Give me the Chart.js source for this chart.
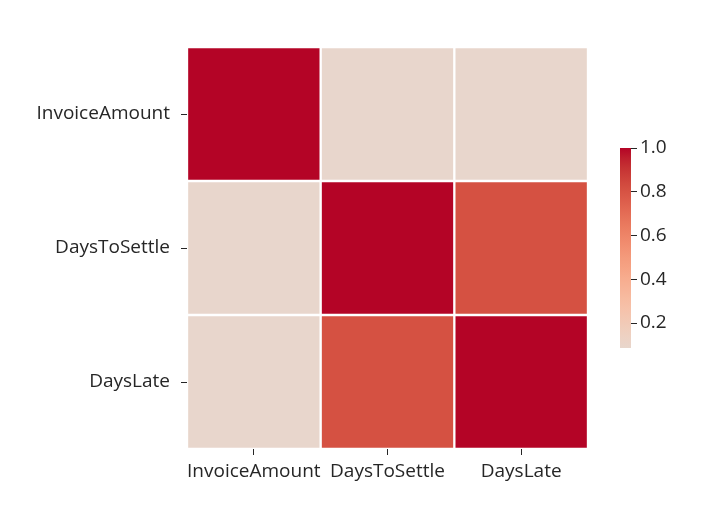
<!DOCTYPE html>
<html>
<head>
<meta charset="utf-8">
<script src="https://cdn.jsdelivr.net/npm/chart.js@4.4.1/dist/chart.umd.min.js"></script>
<style>
   body { margin: 0; background: #fff; }
   #wrap { position: relative; width: 718px; height: 516px; }
   #heat { position: absolute; left: 0; top: 0; }
   #cbar { position: absolute; left: 600px; top: 0; }
</style>
</head>
<body>
<div id="wrap">
   <canvas id="heat" width="600" height="516"></canvas>
   <canvas id="cbar" width="118" height="516"></canvas>
</div>
<script>
'use strict';

var rowLabels = ['InvoiceAmount', 'DaysToSettle', 'DaysLate'];
var colLabels = ['InvoiceAmount', 'DaysToSettle', 'DaysLate'];
var invoiceAmountRow = [1.0, 0.086, 0.09];
var daysToSettleRow = [0.086, 1.0, 0.81];
var daysLateRow = [0.09, 0.81, 1.0];
var colorbarTicks = [0.2, 0.4, 0.6, 0.8, 1.0];

var matrix = [invoiceAmountRow, daysToSettleRow, daysLateRow];

// upper half of matplotlib coolwarm (Moreland table)
var coolwarmTop = [
   [221, 221, 221], [229, 216, 209], [236, 211, 197], [241, 204, 185],
   [245, 196, 173], [247, 187, 160], [247, 177, 148], [247, 166, 135],
   [244, 154, 123], [241, 141, 111], [236, 127, 99], [229, 112, 88],
   [222, 96, 77], [213, 80, 66], [203, 62, 56], [192, 40, 47], [180, 4, 38]
];

var textColor = '#262626';
var labelFont = { family: "'Open Sans', 'Noto Sans', sans-serif", size: 19 };

// value in [0,1] (centred at 0, range 1) -> colour
function coolwarm(v) {
   var t = Math.max(0, Math.min(1, v)) * (coolwarmTop.length - 1);
   var i = Math.min(Math.floor(t), coolwarmTop.length - 2);
   var f = t - i;
   var a = coolwarmTop[i], b = coolwarmTop[i + 1];
   var c = a.map(function(x, k) {
      return Math.round(x + (b[k] - x) * f);
   });
   return 'rgb(' + c.join(',') + ')';
}

var allValues = [].concat.apply([], matrix);
var vmin = Math.min.apply(null, allValues);
var vmax = Math.max.apply(null, allValues);

var datasets = colLabels.map(function(col, j) {
   return {
      label: col,
      data: matrix.map(function() {
         return [j, j + 1];
      }),
      backgroundColor: matrix.map(function(row) {
         return coolwarm(row[j]);
      }),
      borderColor: '#ffffff',
      borderWidth: 1.5,
      borderSkipped: false,
      barPercentage: 1,
      categoryPercentage: 1,
      grouped: false
   };
});

new Chart(document.getElementById('heat'), {
   type: 'bar',
   data: {
      labels: rowLabels,
      datasets: datasets
   },
   options: {
      indexAxis: 'y',
      responsive: false,
      animation: false,
      layout: { padding: { top: 47, right: 12, left: 0, bottom: 0 } },
      plugins: { legend: { display: false }, tooltip: { enabled: false } },
      scales: {
         x: {
            type: 'linear',
            min: 0,
            max: 3,
            border: { display: false },
            grid: { drawOnChartArea: false, drawTicks: true, tickLength: 6, color: textColor },
            ticks: {
               color: textColor,
               font: labelFont,
               padding: 5,
               maxRotation: 0,
               autoSkip: false,
               callback: function(value) {
                  return colLabels[Math.floor(value)];
               }
            },
            afterBuildTicks: function(scale) {
               scale.ticks = colLabels.map(function(c, j) {
                  return { value: j + 0.5 };
               });
            },
            afterFit: function(scale) {
               scale.height = 67;
            }
         },
         y: {
            border: { display: false },
            grid: { drawOnChartArea: false, drawTicks: true, tickLength: 6, offset: false, color: textColor },
            ticks: { color: textColor, font: labelFont, padding: 11 },
            afterFit: function(scale) {
               scale.width = 187;
            }
         }
      }
   }
});

new Chart(document.getElementById('cbar'), {
   type: 'bar',
   data: {
      labels: ['scale'],
      datasets: [{
         data: [[vmin, vmax]],
         barPercentage: 1,
         categoryPercentage: 1,
         borderWidth: 0,
         backgroundColor: function(context) {
            var area = context.chart.chartArea;
            if (!area) {
               return null;
            }
            var yScale = context.chart.scales.y;
            var g = context.chart.ctx.createLinearGradient(0, yScale.getPixelForValue(vmin), 0, yScale.getPixelForValue(vmax));
            for (var k = 0; k <= 20; k++) {
               var v = vmin + (vmax - vmin) * k / 20;
               g.addColorStop(k / 20, coolwarm(v));
            }
            return g;
         }
      }]
   },
   options: {
      responsive: false,
      animation: false,
      layout: { padding: { top: 148, bottom: 168, left: 20, right: 0 } },
      plugins: { legend: { display: false }, tooltip: { enabled: false } },
      scales: {
         x: { display: false },
         y: {
            position: 'right',
            min: vmin,
            max: vmax,
            border: { display: false },
            grid: { drawOnChartArea: false, drawTicks: true, tickLength: 6, color: textColor },
            ticks: {
               color: textColor,
               font: labelFont,
               padding: 3,
               callback: function(value) {
                  return value.toFixed(1);
               }
            },
            afterBuildTicks: function(scale) {
               scale.ticks = colorbarTicks.map(function(v) {
                  return { value: v };
               });
            },
            afterFit: function(scale) {
               scale.width = 87;
            }
         }
      }
   }
});
</script>
</body>
</html>
